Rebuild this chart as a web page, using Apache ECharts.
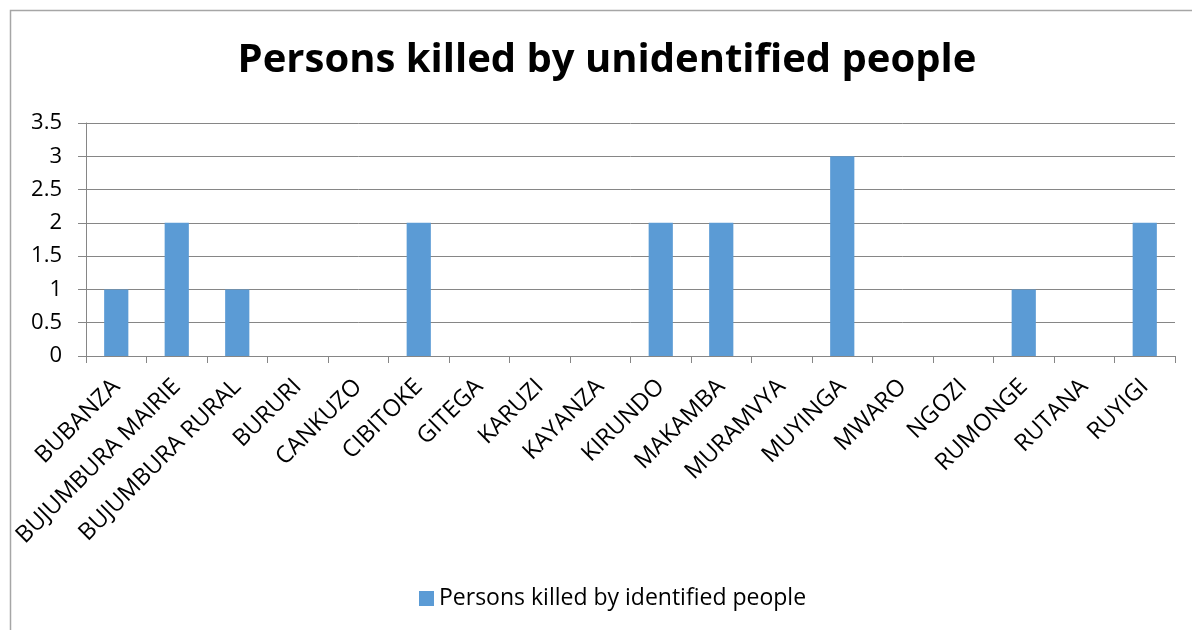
<!DOCTYPE html>
<html>
<head>
<meta charset="utf-8">
<script src="https://cdn.jsdelivr.net/npm/echarts@6/dist/echarts.min.js"></script>
<style>
  html, body { margin: 0; padding: 0; background: #fff; }
  #chart { width: 1192px; height: 630px; }
</style>
</head>
<body>
<div id="chart"></div>
<script>
// Provinces of Burundi shown on the category axis
const provinces = [
  'BUBANZA', 'BUJUMBURA MAIRIE', 'BUJUMBURA RURAL', 'BURURI', 'CANKUZO',
  'CIBITOKE', 'GITEGA', 'KARUZI', 'KAYANZA', 'KIRUNDO', 'MAKAMBA',
  'MURAMVYA', 'MUYINGA', 'MWARO', 'NGOZI', 'RUMONGE', 'RUTANA', 'RUYIGI'
];
// Number of persons killed per province
const killed = [1, 2, 1, 0, 0, 2, 0, 0, 0, 2, 2, 0, 3, 0, 0, 1, 0, 2];
const seriesName = 'Persons killed by identified people';
const chartTitle = 'Persons killed by unidentified people';

const font = '"Open Sans", "Noto Sans", sans-serif';
const chart = echarts.init(document.getElementById('chart'));
chart.setOption({
  animation: false,
  backgroundColor: '#fff',
  title: {
    text: chartTitle,
    left: 602,
    textAlign: 'center',
    top: 36,
    textStyle: { fontFamily: font, fontSize: 40, fontWeight: 'bold', color: '#000' }
  },
  graphic: [{
    type: 'rect',
    shape: { x: 10.5, y: 10.5, width: 1400, height: 900 },
    style: { fill: null, stroke: '#a6a6a6', lineWidth: 1.5 },
    silent: true
  }],
  legend: {
    bottom: 15,
    left: 414,
    itemWidth: 15,
    itemHeight: 15,
    itemGap: 7,
    textStyle: { fontFamily: font, fontSize: 23, color: '#000' },
    data: [{ name: seriesName, icon: 'rect' }]
  },
  grid: { left: 86, right: 17, top: 123, bottom: 274, containLabel: false },
  xAxis: {
    type: 'category',
    data: provinces,
    axisLine: { lineStyle: { color: '#868686', width: 1 } },
    axisTick: { show: true, alignWithLabel: false, length: 7, lineStyle: { color: '#868686' } },
    axisLabel: {
      interval: 0,
      rotate: 45,
      margin: 27,
      fontFamily: font,
      fontSize: 23.5,
      color: '#000'
    }
  },
  yAxis: {
    type: 'value',
    min: 0,
    max: 3.5,
    interval: 0.5,
    axisLine: { show: true, lineStyle: { color: '#868686' } },
    axisTick: { show: true, length: 8, lineStyle: { color: '#868686' } },
    splitLine: { lineStyle: { color: '#868686', width: 1 } },
    axisLabel: { fontFamily: font, fontSize: 22, color: '#000', margin: 24 }
  },
  series: [{
    name: seriesName,
    type: 'bar',
    data: killed,
    barWidth: '40%',
    itemStyle: { color: '#5b9bd5' }
  }]
});
</script>
</body>
</html>
